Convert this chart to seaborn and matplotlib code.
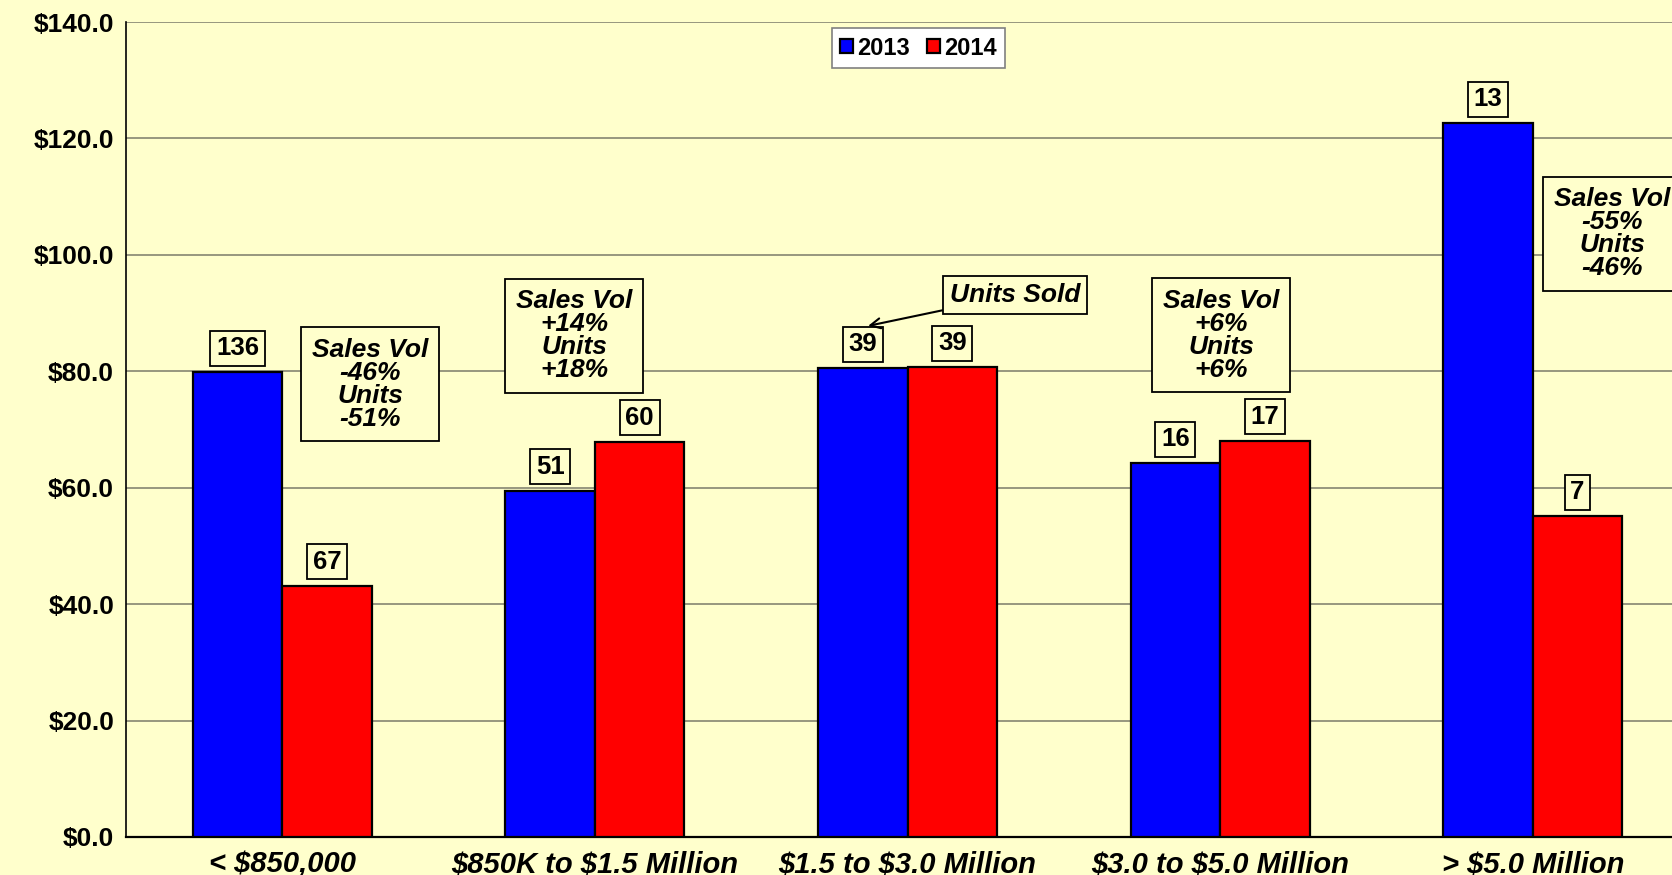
import matplotlib
matplotlib.use('Agg')
import matplotlib.pyplot as plt
import seaborn as sns
import pandas as pd
from matplotlib.ticker import FixedLocator, FuncFormatter
from matplotlib.font_manager import FontProperties

# ---------------- data ----------------
categories = ['< $850,000', '$850K to $1.5 Million', '$1.5 to $3.0 Million',
              '$3.0 to $5.0 Million', '> $5.0 Million']
years = ['2013', '2014']
sales_2013 = [79.8, 59.5, 80.5, 64.2, 122.6]
sales_2014 = [43.2, 67.9, 80.7, 68.1, 55.1]
units_2013 = [136, 51, 39, 16, 13]
units_2014 = [67, 60, 39, 17, 7]
vol_change = ['-46%', '+14%', '', '+6%', '-55%']
unit_change = ['-51%', '+18%', '', '+6%', '-46%']
callout_text = 'Units Sold'
y_ticks = [0, 20, 40, 60, 80, 100, 120, 140]

# ---------------- style ----------------
BG = '#FFFFCC'
FONT = 'Liberation Sans'
sns.set_theme(style='white')
plt.rcParams['font.family'] = [FONT, 'DejaVu Sans']
plt.rcParams['text.color'] = 'black'
plt.rcParams['xtick.color'] = 'black'
plt.rcParams['ytick.color'] = 'black'

def esc(s):
    return s.replace('$', r'\$')

df = pd.DataFrame({
    'Price Range': categories * 2,
    'Year': [years[0]] * len(categories) + [years[1]] * len(categories),
    'Sales': sales_2013 + sales_2014,
})

fig = plt.figure(figsize=(16.72, 8.75), dpi=100, facecolor=BG)
ax = fig.add_axes([126 / 1672, 38 / 875, 1563 / 1672, 815 / 875])
ax.set_facecolor(BG)

sns.barplot(data=df, x='Price Range', y='Sales', hue='Year', order=categories,
            hue_order=years, palette=['#0000FF', '#FF0000'], width=0.573,
            edgecolor='black', linewidth=1.6, saturation=1, ax=ax, zorder=3)

ax.set_xlabel('')
ax.set_ylabel('')
ax.set_xlim(-0.5, len(categories) - 0.5)
ax.set_ylim(0, 140)

# y axis
ax.yaxis.set_major_locator(FixedLocator(y_ticks))
ax.yaxis.set_major_formatter(FuncFormatter(lambda v, p: esc('${:.1f}'.format(v))))
ax.tick_params(axis='y', direction='out', length=6.5, width=1, color='#707070', pad=2,
               labelsize=19, labelcolor='black')
for t in ax.get_yticklabels():
    t.set_fontweight('bold')
ax.grid(axis='y', color='#7a7a6a', linewidth=1.1, zorder=0)
ax.set_axisbelow(True)

# x axis
ax.set_xticks(range(len(categories)))
ax.set_xticklabels([esc(c) for c in categories], fontsize=21, fontweight='bold',
                   fontstyle='italic', color='black')
ax.tick_params(axis='x', which='major', length=0, pad=10)
ax.xaxis.set_minor_locator(FixedLocator([i - 0.5 for i in range(len(categories) + 1)]))
ax.tick_params(axis='x', which='minor', direction='out', length=6, width=1, color='#808080')

for side in ['top', 'right']:
    ax.spines[side].set_visible(False)
ax.spines['left'].set_color('black')
ax.spines['left'].set_linewidth(1.2)
ax.spines['bottom'].set_color('black')
ax.spines['bottom'].set_linewidth(1.6)

# legend
handles, labels = ax.get_legend_handles_labels()
leg = ax.legend(handles, labels, ncol=2, loc='center', bbox_to_anchor=(0.507, 0.968),
                frameon=True, fancybox=False, edgecolor='#808080', facecolor='white',
                framealpha=1, prop=FontProperties(family=FONT, weight='bold', size=17),
                handlelength=0.55, handleheight=0.55, handletextpad=0.2,
                columnspacing=0.7, borderpad=0.35, borderaxespad=0)
leg.get_frame().set_linewidth(1.2)
for t in leg.get_texts():
    t.set_color('black')

# unit labels above bars
unit_lists = [units_2013, units_2014]
for ci, cont in enumerate(ax.containers[:2]):
    for bar in cont:
        xc = bar.get_x() + bar.get_width() / 2
        idx = int(round(xc))
        ax.annotate(str(unit_lists[ci][idx]), xy=(xc, bar.get_height()),
                    xytext=(0, 12), textcoords='offset pixels', ha='center', va='bottom',
                    fontsize=18.5, fontweight='bold', color='black', zorder=5,
                    bbox=dict(boxstyle='square,pad=0.22', fc=BG, ec='black', lw=1.3))

# change callouts
callout_pos = [(0.281, 77.8), (0.933, 86.1), None, (3.003, 86.2), (4.254, 103.6)]
for i, pos in enumerate(callout_pos):
    if pos is None or not vol_change[i]:
        continue
    txt = 'Sales Vol\n{}\nUnits\n{}'.format(vol_change[i], unit_change[i])
    ax.text(pos[0], pos[1], txt, ha='center', va='center', fontsize=19,
            fontweight='bold', fontstyle='italic', linespacing=0.95, zorder=6,
            color='black',
            bbox=dict(boxstyle='square,pad=0.4', fc=BG, ec='black', lw=1.3))

ax.annotate(callout_text, xy=(1.874, 87.8), xytext=(2.345, 93.1), ha='center', va='center',
            fontsize=19, fontweight='bold', fontstyle='italic', zorder=6, color='black',
            bbox=dict(boxstyle='square,pad=0.25', fc=BG, ec='black', lw=1.3),
            arrowprops=dict(arrowstyle='->', color='black', lw=1.5, mutation_scale=18,
                            shrinkA=0, shrinkB=0))

fig.savefig('out.png', dpi=100, facecolor=BG)
